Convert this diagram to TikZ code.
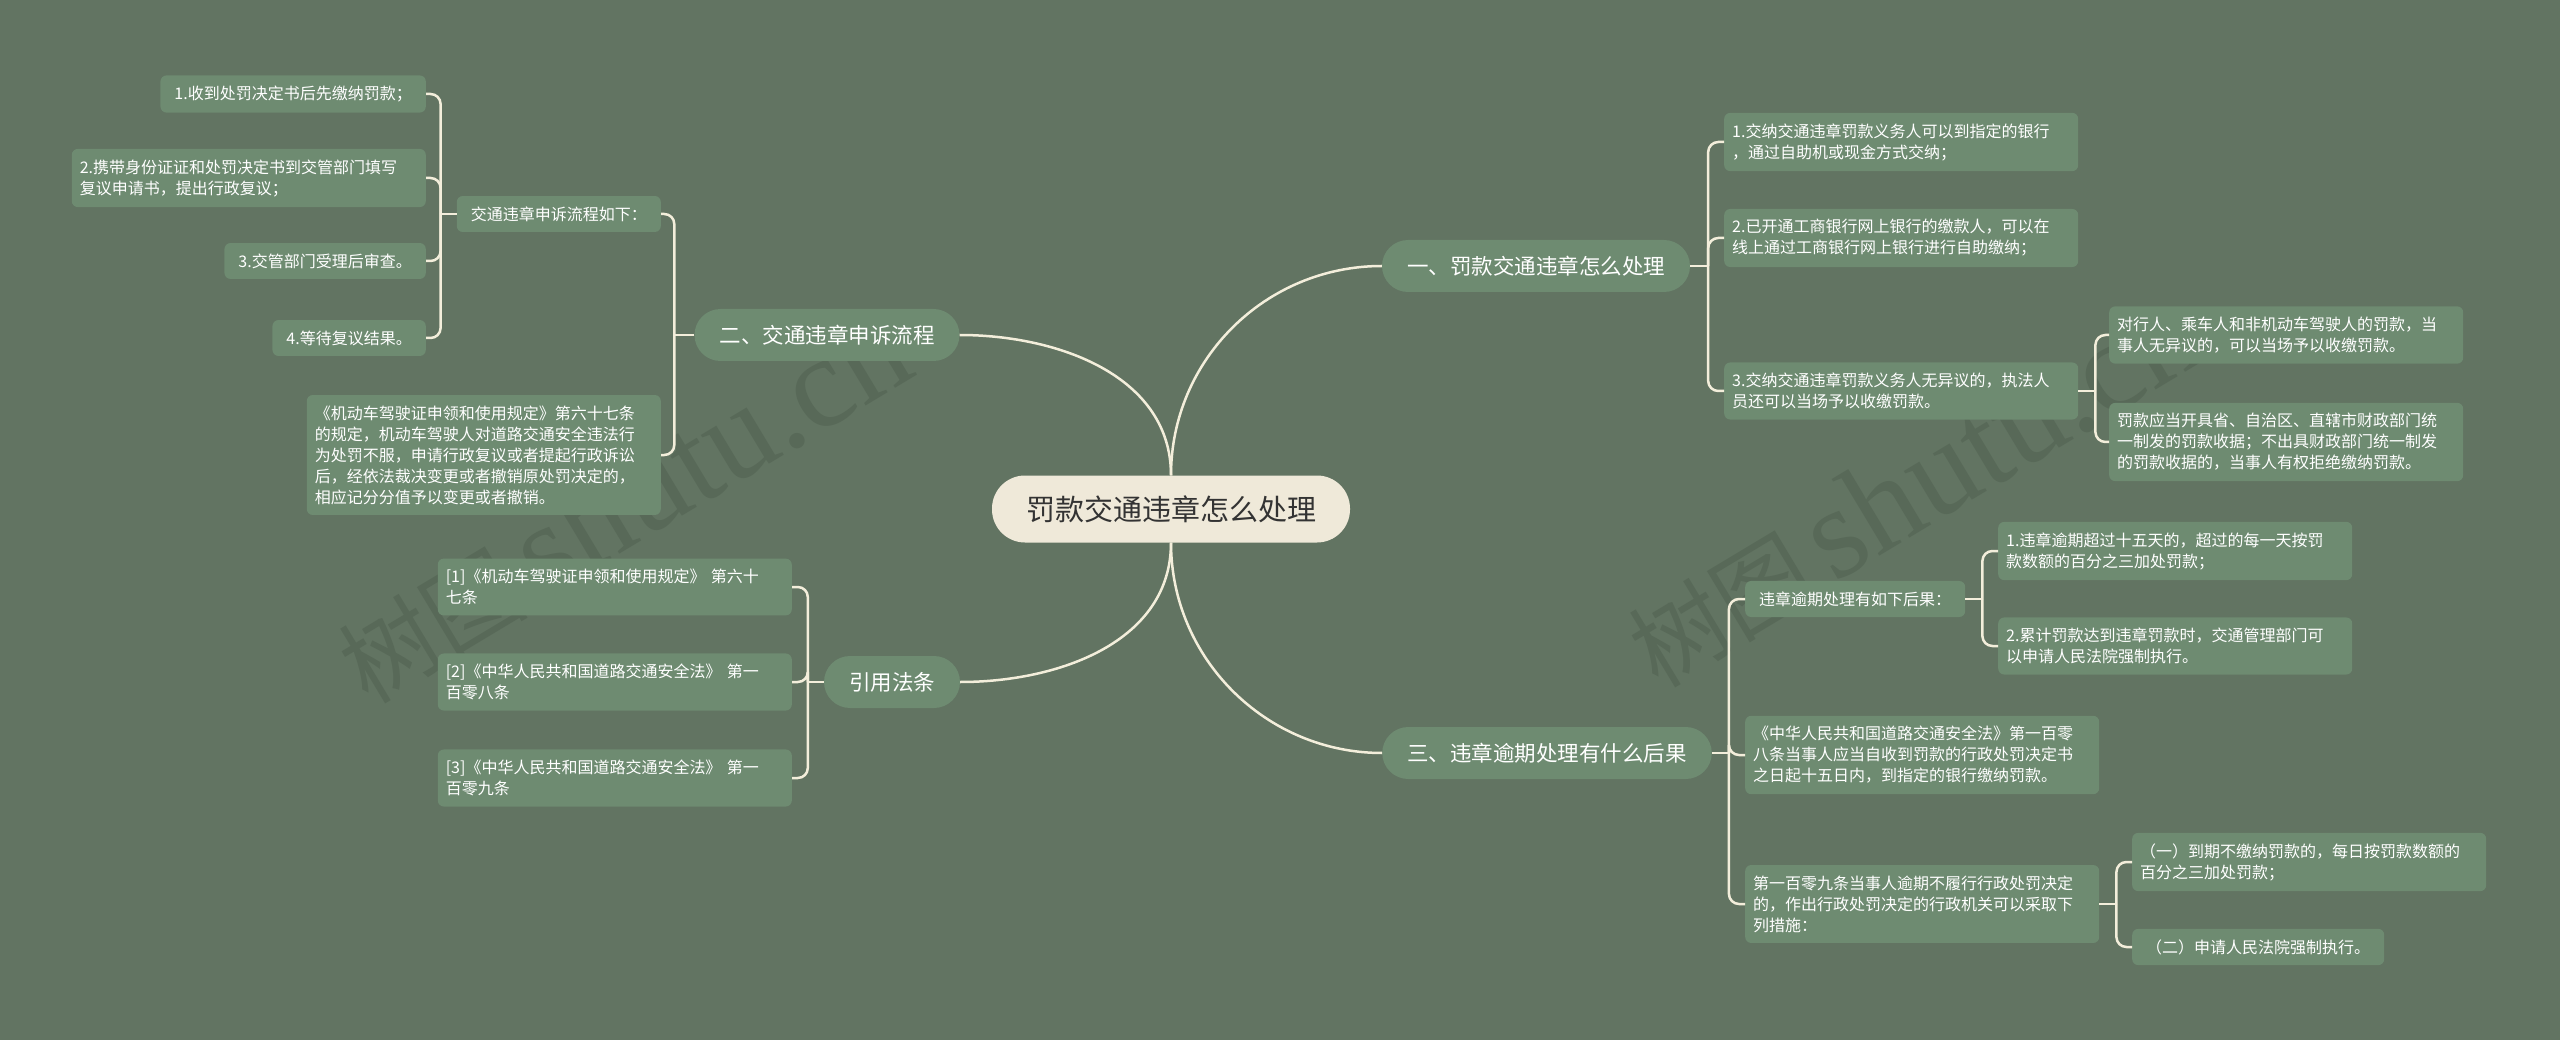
\documentclass[tikz,border=0pt]{standalone}
\usepackage{fontspec}
\setmainfont{Noto Sans CJK SC}
\newfontfamily\wmfont{Liberation Serif}

\definecolor{bgc}{HTML}{627462}
\definecolor{boxc}{HTML}{6E8B71}
\definecolor{linec}{HTML}{F3EEDB}
\definecolor{rootc}{HTML}{EFE9D9}
\definecolor{wmc}{HTML}{586958}

\tikzset{
    leaf/.style={fill=boxc, text=white, rounded corners=6pt, inner xsep=8pt,
        inner ysep=10.5pt, align=left, font=\fontsize{16}{21}\selectfont},
    wide/.style={leaf, text width=338pt},
    short/.style={leaf, inner xsep=14pt},
    topic/.style={fill=boxc, text=white, rounded corners=26pt, inner xsep=25pt,
        inner ysep=0pt, minimum height=52pt, font=\fontsize{21.5}{26}\selectfont},
    hub/.style={fill=rootc, text=black!80, rounded corners=33pt, minimum width=358pt,
        minimum height=67pt, font=\fontsize{29}{34}\selectfont},
    link/.style={draw=linec, line width=2.5pt, rounded corners=10pt},
    wmark/.style={text=wmc, rotate=31, inner sep=0pt, anchor=south west,
        font=\fontsize{95}{95}\selectfont}
}

\begin{document}
\begin{tikzpicture}[x=1pt,y=-1pt]
        \fill[bgc] (0,0) rectangle (2560,1040);
        \useasboundingbox (0,0) rectangle (2560,1040);

        % watermarks
        \node[wmark] (wmLeft)  at (372,712) {树图\,{\wmfont\fontsize{130}{130}\selectfont shutu.cn}};
        \node[wmark] (wmRight) at (1662,696) {树图\,{\wmfont\fontsize{130}{130}\selectfont shutu.cn}};

        % root and main topics
        \node[hub]   (root)  at (1171,509) {罚款交通违章怎么处理};
        \node[topic] (one)   at (1536,266) {一、罚款交通违章怎么处理};
        \node[topic] (two)   at (827,335)  {二、交通违章申诉流程};
        \node[topic] (law)   at (892,682)  {引用法条};
        \node[topic] (three) at (1547,753) {三、违章逾期处理有什么后果};

        % left: appeal procedure
        \node[short, anchor=east] (flow) at (661,214) {交通违章申诉流程如下：};
        \node[wide,  anchor=east] (rule) at (661,455)
            {《机动车驾驶证申领和使用规定》第六十七条\\的规定，机动车驾驶人对道路交通安全违法行\\为处罚不服，申请行政复议或者提起行政诉讼\\后，经依法裁决变更或者撤销原处罚决定的，\\相应记分分值予以变更或者撤销。};
        \node[short, anchor=east] (step1) at (426,94)  {1.收到处罚决定书后先缴纳罚款；};
        \node[wide,  anchor=east] (step2) at (426,178) {2.携带身份证证和处罚决定书到交管部门填写\\复议申请书，提出行政复议；};
        \node[short, anchor=east] (step3) at (426,261) {3.交管部门受理后审查。};
        \node[short, anchor=east] (step4) at (426,338) {4.等待复议结果。};

        % left: cited articles
        \node[wide, anchor=east] (cite1) at (792,587) {[1]《机动车驾驶证申领和使用规定》 第六十\\七条};
        \node[wide, anchor=east] (cite2) at (792,682) {[2]《中华人民共和国道路交通安全法》 第一\\百零八条};
        \node[wide, anchor=east] (cite3) at (792,778) {[3]《中华人民共和国道路交通安全法》 第一\\百零九条};

        % right: how to pay
        \node[wide, anchor=west] (pay1) at (1724,142) {1.交纳交通违章罚款义务人可以到指定的银行\\，通过自助机或现金方式交纳；};
        \node[wide, anchor=west] (pay2) at (1724,238) {2.已开通工商银行网上银行的缴款人，可以在\\线上通过工商银行网上银行进行自助缴纳；};
        \node[wide, anchor=west] (pay3) at (1724,391) {3.交纳交通违章罚款义务人无异议的，执法人\\员还可以当场予以收缴罚款。};
        \node[wide, anchor=west] (spot1) at (2109,335) {对行人、乘车人和非机动车驾驶人的罚款，当\\事人无异议的，可以当场予以收缴罚款。};
        \node[wide, anchor=west] (spot2) at (2109,442) {罚款应当开具省、自治区、直辖市财政部门统\\一制发的罚款收据；不出具财政部门统一制发\\的罚款收据的，当事人有权拒绝缴纳罚款。};

        % right: overdue
        \node[short, anchor=west] (late) at (1745,599) {违章逾期处理有如下后果：};
        \node[wide,  anchor=west] (art108) at (1745,755) {《中华人民共和国道路交通安全法》第一百零\\八条当事人应当自收到罚款的行政处罚决定书\\之日起十五日内，到指定的银行缴纳罚款。};
        \node[wide,  anchor=west] (art109) at (1745,904) {第一百零九条当事人逾期不履行行政处罚决定\\的，作出行政处罚决定的行政机关可以采取下\\列措施：};
        \node[wide,  anchor=west] (late1) at (1998,551) {1.违章逾期超过十五天的，超过的每一天按罚\\款数额的百分之三加处罚款；};
        \node[wide,  anchor=west] (late2) at (1998,646) {2.累计罚款达到违章罚款时，交通管理部门可\\以申请人民法院强制执行。};
        \node[wide,  anchor=west] (step109a) at (2132,862) {（一）到期不缴纳罚款的，每日按罚款数额的\\百分之三加处罚款；};
        \node[short, anchor=west] (step109b) at (2132,947) {（二）申请人民法院强制执行。};

        % root to topics
        \draw[link] (root.north) .. controls +(0,-116) and +(-116,0) .. (one.west);
        \draw[link] (root.north) .. controls +(0,-99)  and +(99,0)   .. (two.east);
        \draw[link] (root.south) .. controls +(0,99)   and +(99,0)   .. (law.east);
        \draw[link] (root.south) .. controls +(0,116)  and +(-116,0) .. (three.west);

        % brackets
        \draw[link] (two.west) -- ++(-20,0) coordinate (jTwo);
        \draw[link] (jTwo) |- (flow.east);
        \draw[link] (jTwo) |- (rule.east);

        \draw[link] (flow.west) -- ++(-16,0) coordinate (jFlow);
        \draw[link] (jFlow) |- (step1.east);
        \draw[link] (jFlow) |- (step2.east);
        \draw[link] (jFlow) |- (step3.east);
        \draw[link] (jFlow) |- (step4.east);

        \draw[link] (law.west) -- ++(-16,0) coordinate (jLaw);
        \draw[link] (jLaw) |- (cite1.east);
        \draw[link] (jLaw) |- (cite2.east);
        \draw[link] (jLaw) |- (cite3.east);

        \draw[link] (one.east) -- ++(18,0) coordinate (jOne);
        \draw[link] (jOne) |- (pay1.west);
        \draw[link] (jOne) |- (pay2.west);
        \draw[link] (jOne) |- (pay3.west);

        \draw[link] (pay3.east) -- ++(17,0) coordinate (jPay);
        \draw[link] (jPay) |- (spot1.west);
        \draw[link] (jPay) |- (spot2.west);

        \draw[link] (three.east) -- ++(17,0) coordinate (jThree);
        \draw[link] (jThree) |- (late.west);
        \draw[link] (jThree) |- (art108.west);
        \draw[link] (jThree) |- (art109.west);

        \draw[link] (late.east) -- ++(17,0) coordinate (jLate);
        \draw[link] (jLate) |- (late1.west);
        \draw[link] (jLate) |- (late2.west);

        \draw[link] (art109.east) -- ++(17,0) coordinate (jArt);
        \draw[link] (jArt) |- (step109a.west);
        \draw[link] (jArt) |- (step109b.west);
\end{tikzpicture}
\end{document}
